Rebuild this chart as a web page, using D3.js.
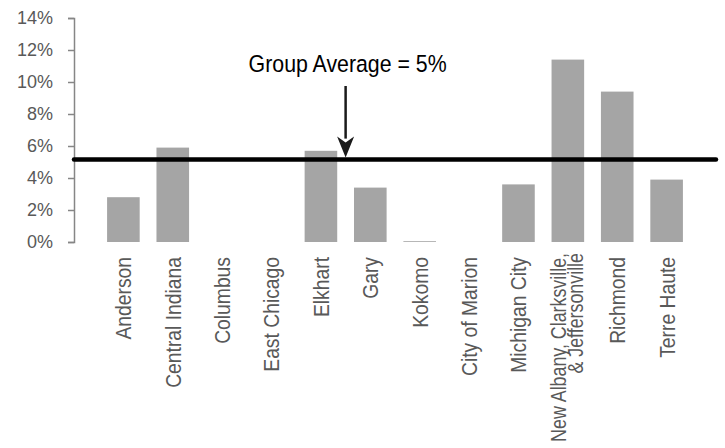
<!DOCTYPE html>
<html>
<head>
<meta charset="utf-8">
<script src="https://cdn.jsdelivr.net/npm/d3@7"></script>
<style>
  html, body { margin: 0; padding: 0; background: #ffffff; }
  svg { display: block; }
  text { font-family: "Liberation Sans", Arial, sans-serif; }
</style>
</head>
<body>
<svg id="chart" width="725" height="448"></svg>
<script>
// ---- data ----
const categories = [
  ["Anderson"],
  ["Central Indiana"],
  ["Columbus"],
  ["East Chicago"],
  ["Elkhart"],
  ["Gary"],
  ["Kokomo"],
  ["City of Marion"],
  ["Michigan City"],
  ["New Albany, Clarksville,", "& Jeffersonville"],
  ["Richmond"],
  ["Terre Haute"]
];
const values = [2.8, 5.9, 0, 0, 5.7, 3.4, 0.05, 0, 3.6, 11.4, 9.4, 3.9];
const yTicks = [0, 2, 4, 6, 8, 10, 12, 14];
const groupAverage = 5.15;
const annotationText = "Group Average = 5%";
const annotationTextValue = 10.6;   // label baseline level (in %)
const arrowStartValue = 9.75;       // arrow tail level (in %)
const arrowBetween = [4, 5];        // arrow sits between Elkhart and Gary

// ---- layout ----
const W = 725, H = 448;
const svg = d3.select("#chart");
const mLeft = 74, mRight = 716, mTop = 18, mBottom = 242;

const keys = categories.map((c, i) => i);
const x = d3.scalePoint().domain(keys).range([mLeft, mRight]).padding(1);
const barW = x.step() * 0.66;
const y = d3.scaleLinear().domain([0, 14]).range([mBottom, mTop]);

const textColor = "#595959";
const axisColor = "#868686";
const barColor = "#a5a5a5";
const condense = 0.877;   // emulate the condensed face of the original

// bars
svg.append("g").selectAll("rect")
  .data(values)
  .join("rect")
  .attr("x", (d, i) => x(i) - barW / 2)
  .attr("width", barW)
  .attr("y", d => y(d))
  .attr("height", d => y(0) - y(d))
  .attr("fill", barColor);

// y axis
const yAxis = d3.axisLeft(y)
  .tickValues(yTicks)
  .tickFormat(d => d + "%")
  .tickSize(6)
  .tickPadding(15);
const gy = svg.append("g").attr("transform", `translate(${mLeft},0)`).call(yAxis);
gy.select(".domain").attr("stroke", axisColor).attr("stroke-width", 1.5);
gy.selectAll(".tick line").attr("stroke", axisColor).attr("stroke-width", 1.5);
gy.selectAll(".tick text")
  .attr("fill", textColor)
  .style("font-size", "18px")
  .style("font-family", "'Liberation Sans', Arial, sans-serif");

// category labels (rotated, condensed)
const labels = svg.append("g");
const labelStart = mBottom + 15;
const maxLen = H - labelStart - 2;
categories.forEach((lines, i) => {
  const t = labels.append("text")
    .attr("text-anchor", "end")
    .attr("fill", textColor)
    .style("font-size", "22px");
  if (lines.length === 1) {
    t.append("tspan").attr("x", 0).attr("dy", "0.36em").text(lines[0]);
  } else {
    t.append("tspan").attr("x", 0).attr("dy", -1.5).text(lines[0]);
    t.append("tspan").attr("x", 0).attr("dy", 17).text(lines[1]);
  }
  let len = 0;
  t.selectAll("tspan").each(function () { len = Math.max(len, this.getComputedTextLength()); });
  const sx = Math.min(condense, maxLen / len);
  const start = lines.length === 1 ? labelStart : labelStart - 4;
  t.attr("transform", `translate(${x(i)},${start}) rotate(-90) scale(${sx},1)`);
});

// average line
svg.append("line")
  .attr("x1", mLeft).attr("x2", mRight)
  .attr("y1", y(groupAverage)).attr("y2", y(groupAverage))
  .attr("stroke", "#000").attr("stroke-width", 4.5)
  .attr("stroke-linecap", "round");

// arrow annotation
const ax = (x(arrowBetween[0]) + x(arrowBetween[1])) / 2;
const tipY = y(groupAverage) - 2;
const headH = 21, headW = 17;
svg.append("line")
  .attr("x1", ax).attr("x2", ax)
  .attr("y1", y(arrowStartValue)).attr("y2", tipY - headH + 2)
  .attr("stroke", "#1a1a1a").attr("stroke-width", 2.5);
svg.append("path")
  .attr("d", `M${ax - headW / 2},${tipY - headH} L${ax},${tipY - headH + 6} L${ax + headW / 2},${tipY - headH} L${ax},${tipY} Z`)
  .attr("fill", "#1a1a1a");

svg.append("text")
  .attr("transform", `translate(${ax + 2},${y(annotationTextValue)}) scale(0.87,1)`)
  .attr("text-anchor", "middle")
  .attr("fill", "#000")
  .style("font-size", "24.5px")
  .text(annotationText);
</script>
</body>
</html>
